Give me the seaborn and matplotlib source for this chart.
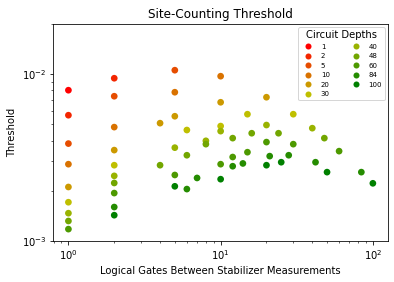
import numpy as np
import pandas as pd
import matplotlib
matplotlib.use("Agg")
import matplotlib.pyplot as plt
import seaborn as sns
from matplotlib.colors import LinearSegmentedColormap

# Circuit depths shown in the legend
depths = [1, 2, 5, 10, 20, 30, 40, 48, 60, 84, 100]

# Gates between stabilizer measurements / threshold, one pair per depth
gates_d1 = [1]
thr_d1 = [0.00802]
gates_d2 = [1, 2]
thr_d2 = [0.00568, 0.00946]
gates_d5 = [1, 2, 5]
thr_d5 = [0.00384, 0.00738, 0.01057]
gates_d10 = [1, 2, 5, 10]
thr_d10 = [0.00289, 0.00482, 0.0078, 0.00973]
gates_d20 = [1, 2, 4, 5, 10, 20]
thr_d20 = [0.00211, 0.00351, 0.00509, 0.0056, 0.00679, 0.00728]
gates_d30 = [1, 2, 6, 10, 15, 30]
thr_d30 = [0.00171, 0.00285, 0.00463, 0.00489, 0.00576, 0.00576]
gates_d40 = [1, 2, 5, 8, 10, 20, 40]
thr_d40 = [0.00147, 0.00246, 0.00363, 0.00399, 0.00456, 0.00496, 0.00475]
gates_d48 = [1, 2, 4, 6, 8, 12, 16, 24, 48]
thr_d48 = [0.00132, 0.00223, 0.00285, 0.00327, 0.00381, 0.00414, 0.00443, 0.00443, 0.00414]
gates_d60 = [1, 2, 5, 10, 12, 15, 20, 30, 60]
thr_d60 = [0.00118, 0.00194, 0.00249, 0.00289, 0.00319, 0.00341, 0.00392, 0.00381, 0.00346]
gates_d84 = [2, 6, 7, 12, 14, 21, 28, 42, 84]
thr_d84 = [0.0016, 0.00205, 0.00239, 0.00281, 0.00292, 0.00323, 0.00327, 0.00297, 0.00259]
gates_d100 = [2, 5, 10, 20, 25, 50, 100]
thr_d100 = [0.00143, 0.00213, 0.00235, 0.00285, 0.00297, 0.00259, 0.00222]

gates = [gates_d1, gates_d2, gates_d5, gates_d10, gates_d20, gates_d30,
         gates_d40, gates_d48, gates_d60, gates_d84, gates_d100]
thresholds = [thr_d1, thr_d2, thr_d5, thr_d10, thr_d20, thr_d30,
              thr_d40, thr_d48, thr_d60, thr_d84, thr_d100]

rows = []
for d, xs, ys in zip(depths, gates, thresholds):
    for x, y in zip(xs, ys):
        rows.append({"depth": str(d), "gates": x, "threshold": y})
df = pd.DataFrame(rows)

cmap = LinearSegmentedColormap.from_list("ryg", ["red", "y", "green"])
palette = [cmap(i / (len(depths) - 1)) for i in range(len(depths))]

fig, ax = plt.subplots(figsize=(394 / 72, 282 / 72), dpi=72)
fig.subplots_adjust(left=0.135, right=0.985, top=0.915, bottom=0.145)

sns.scatterplot(data=df, x="gates", y="threshold", hue="depth",
                hue_order=[str(d) for d in depths], palette=palette,
                s=45, linewidth=0, ax=ax)

ax.set_xscale("log")
ax.set_yscale("log")
ax.set_ylim(1e-3, 2e-2)
ax.set_title("Site-Counting Threshold", fontsize=12)
ax.set_xlabel("Logical Gates Between Stabilizer Measurements", fontsize=10)
ax.set_ylabel("Threshold", fontsize=10)

sns.move_legend(ax, "upper right", ncol=2, title="Circuit Depths",
                fontsize=7, title_fontsize=10, markerscale=0.9,
                columnspacing=2.7)

fig.savefig("out.png", dpi=72)
